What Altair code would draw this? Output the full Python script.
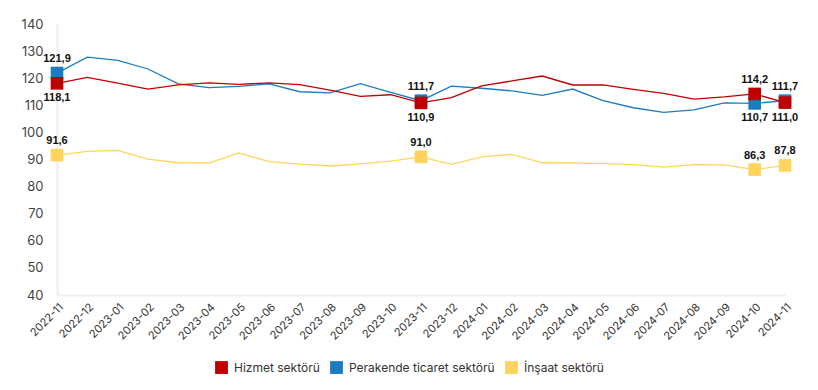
import altair as alt
import pandas as pd

months = ["2022-11", "2022-12", "2023-01", "2023-02", "2023-03", "2023-04", "2023-05",
          "2023-06", "2023-07", "2023-08", "2023-09", "2023-10", "2023-11", "2023-12",
          "2024-01", "2024-02", "2024-03", "2024-04", "2024-05", "2024-06", "2024-07",
          "2024-08", "2024-09", "2024-10", "2024-11"]

hizmet = [118.1, 120.3, 118.2, 116.0, 117.5, 118.3, 117.7, 118.3, 117.6, 115.6, 113.3, 113.9,
          110.9, 112.8, 117.2, 119.0, 120.8, 117.5, 117.5, 115.9, 114.4, 112.3, 113.1, 114.2, 111.0]
perakende = [121.9, 127.8, 126.6, 123.4, 117.9, 116.5, 117.0, 117.9, 115.0, 114.6, 118.0, 114.8,
             111.7, 117.1, 116.3, 115.3, 113.7, 116.0, 111.7, 109.1, 107.4, 108.3, 110.9, 110.7, 111.7]
insaat = [91.6, 93.0, 93.4, 90.1, 88.8, 88.7, 92.4, 89.2, 88.3, 87.6, 88.4, 89.4,
          91.0, 88.2, 91.0, 91.9, 88.8, 88.7, 88.5, 88.1, 87.2, 88.1, 88.0, 86.3, 87.8]

labeled_months = ["2022-11", "2023-11", "2024-10", "2024-11"]

series_names = ["Hizmet sektörü", "Perakende ticaret sektörü", "İnşaat sektörü"]
series_colors = ["#c00000", "#1b7cc1", "#ffd45e"]

series = {
    "Hizmet sektörü": hizmet,
    "Perakende ticaret sektörü": perakende,
    "İnşaat sektörü": insaat,
}

rows = []
for name in ["Perakende ticaret sektörü", "Hizmet sektörü", "İnşaat sektörü"]:
    for m, v in zip(months, series[name]):
        rows.append({"month": m, "series": name, "value": v})
df = pd.DataFrame(rows)

lab = []
for name in ["Perakende ticaret sektörü", "Hizmet sektörü", "İnşaat sektörü"]:
    for m in labeled_months:
        i = months.index(m)
        v = series[name][i]
        if name == "İnşaat sektörü":
            pos = "above"
        else:
            other = hizmet[i] if name == "Perakende ticaret sektörü" else perakende[i]
            pos = "above" if v >= other else "below"
        lab.append({"month": m, "series": name, "value": v,
                    "label": f"{v:.1f}".replace(".", ","), "pos": pos})
ldf = pd.DataFrame(lab)

x = alt.X("month:O", title=None,
          scale=alt.Scale(type="point", padding=0, domain=months),
          axis=alt.Axis(labelAngle=-45, labelFont="Inter", labelFontSize=11,
                        labelColor="#333333", ticks=False, domainColor="#eeeeee",
                        domainWidth=2, labelPadding=6))
y = alt.Y("value:Q", title=None,
          scale=alt.Scale(domain=[40, 140], nice=False, zero=False),
          axis=alt.Axis(values=list(range(40, 141, 10)), grid=False, ticks=False,
                        labelFont="Inter", labelFontSize=13, labelColor="#444444",
                        domainColor="#eeeeee", domainWidth=2, labelPadding=14))
color = alt.Color("series:N", title=None,
                  scale=alt.Scale(domain=series_names, range=series_colors),
                  legend=alt.Legend(orient="none", legendX=158, legendY=337,
                                    direction="horizontal", padding=0,
                                    symbolType="square", symbolSize=165,
                                    symbolStrokeWidth=0, labelFont="Inter",
                                    labelFontSize=12, labelColor="#333333",
                                    columnPadding=10, labelOffset=6))

lines = alt.Chart(df).mark_line(strokeWidth=1.3).encode(x=x, y=y, color=color,
                                                          detail="series:N")
points = alt.Chart(ldf).mark_point(shape="square", filled=True, size=160, opacity=1).encode(
    x=x, y=y, color=color)
above = alt.Chart(ldf).transform_filter(alt.datum.pos == "above").mark_text(
    baseline="bottom", dy=-9, font="Liberation Sans", fontWeight="bold", fontSize=11,
    color="#111111").encode(x=x, y=y, text="label:N")
below = alt.Chart(ldf).transform_filter(alt.datum.pos == "below").mark_text(
    baseline="top", dy=9, font="Liberation Sans", fontWeight="bold", fontSize=11,
    color="#111111").encode(x=x, y=y, text="label:N")

chart = alt.layer(lines, points, above, below).properties(
    width=728, height=271,
    autosize=alt.AutoSizeParams(type="none"),
    padding={"left": 49, "top": 16, "right": 25, "bottom": 85},
).configure_view(stroke=None)

chart.save("out.html", embed_options={"renderer": "svg", "actions": False})
